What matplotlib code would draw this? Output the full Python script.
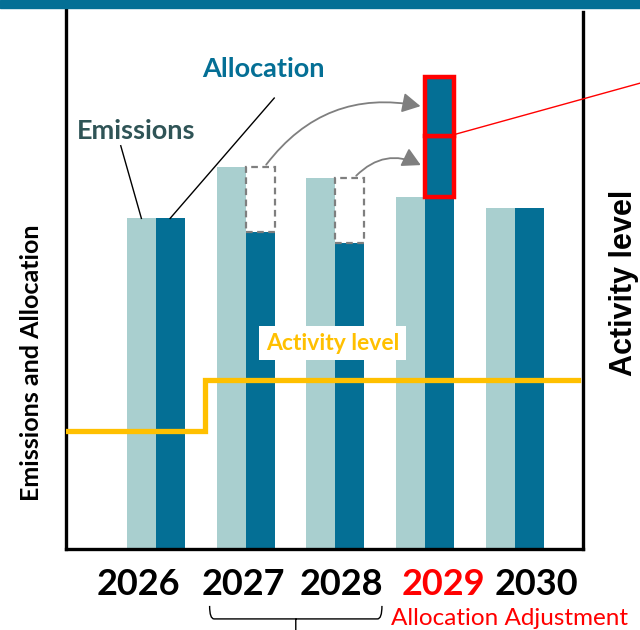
import numpy as np
import matplotlib.pyplot as plt
from matplotlib.patches import FancyArrowPatch, Rectangle
from matplotlib.path import Path
from matplotlib.patches import PathPatch

# values (arbitrary units, axis runs 0-100)
years = ['2026', '2027', '2028', '2029', '2030']
emissions = [61.0, 70.5, 68.5, 65.0, 63.0]
allocation = [61.0, 58.5, 56.5, 65.0, 63.0]
# allocation carried into 2029 from 2027 (lower) and 2028 (upper)
adjustment = [11.2, 10.8]
# activity level before / after the step
activity = [21.8, 31.2]

teal = '#046F95'
light = '#A9CFCF'
yellow = '#FFC000'
grey = '#7F7F7F'
red = '#FF0000'

bw = 0.323
x = np.arange(len(years))

fig = plt.figure(figsize=(6.4, 6.3), dpi=100)
fig.patches.append(Rectangle((0, 1 - 8 / 630), 1, 8 / 630, transform=fig.transFigure,
                             color=teal, zorder=0))
ax = fig.add_axes([66 / 640, 1 - 549 / 630, 517 / 640, 542 / 630])
ax.set_xlim(-1.0, 4.76)
ax.set_ylim(0, 100)

ax.bar(x - bw / 2, emissions, bw, color=light, zorder=2)
ax.bar(x + bw / 2, allocation, bw, color=teal, zorder=2)

# shortfall boxes for 2027 and 2028
for i in (1, 2):
    ax.add_patch(Rectangle((x[i], allocation[i]), bw, emissions[i] - allocation[i],
                           fill=False, ec=grey, lw=1.6, ls=(0, (3, 2)), zorder=3))

# adjustment stacked on 2029 allocation
base = allocation[3]
for a in adjustment:
    ax.bar(x[3] + bw / 2, a, bw, bottom=base, color=teal, ec=red, lw=3.2, zorder=4)
    base += a

# arrows from the shortfalls to the 2029 adjustment
seg_mid = [allocation[3] + adjustment[0] / 2, allocation[3] + adjustment[0] + adjustment[1] / 2]
for i, ytgt, rad in ((1, seg_mid[1], -0.32), (2, seg_mid[0], -0.38)):
    arr = FancyArrowPatch((x[i] + bw / 2 + 0.05, emissions[i]), (x[3] - 0.02, ytgt),
                          connectionstyle=f'arc3,rad={rad}',
                          arrowstyle='-|>,head_length=11,head_width=6',
                          color=grey, lw=1.3, zorder=5)
    ax.add_patch(arr)

# red pointer line out to the right
ax.plot([x[3] + bw + 0.01, 5.45], [allocation[3] + adjustment[0] + 0.3, 86.2],
        color=red, lw=1.0, clip_on=False, zorder=5)

# activity level step line
xs = [-1.0, 0.55, 0.55, 4.70]
ax.plot(xs, [activity[0], activity[0], activity[1], activity[1]], color=yellow, lw=3.8,
        solid_joinstyle='miter', zorder=6)
ax.text(1.97, 38.0, 'Activity level', color=yellow, fontsize=16.5, fontweight='bold',
        family='Lato', ha='center', va='center', zorder=7,
        bbox=dict(boxstyle='square,pad=0.3', fc='white', ec='none'))

# series labels with leader lines
ax.text(-0.22, 77.2, 'Emissions', color='#2F5456', fontsize=19.5, fontweight='bold',
        family='Lato', ha='center', va='center')
ax.plot([-0.39, -0.16], [74.4, emissions[0]], color='black', lw=1.0, zorder=3)
ax.text(1.20, 88.6, 'Allocation', color=teal, fontsize=19.5, fontweight='bold',
        family='Lato', ha='center', va='center')
ax.plot([1.32, 0.16], [83.2, allocation[0]], color='black', lw=1.0, zorder=3)

# axes frame
for s in ('left', 'bottom', 'right'):
    ax.spines[s].set_linewidth(2.4)
    ax.spines[s].set_color('black')
ax.spines['top'].set_visible(False)
ax.spines['right'].set_bounds(0, 99.1)
ax.set_yticks([])

label_pos = [-0.19, 0.98, 2.07, 3.21, 4.24]
ax.set_xticks(label_pos)
ax.set_xticklabels(years, fontsize=26, fontweight='bold', family='Lato')
ax.tick_params(axis='x', length=0, pad=14)
ax.get_xticklabels()[3].set_color(red)

fig.text(32 / 640, 1 - 363 / 630, 'Emissions and Allocation', rotation=90, fontsize=18,
         fontweight='bold', family='Lato', ha='center', va='center')
fig.text(624 / 640, 1 - 283 / 630, 'Activity level', rotation=90, fontsize=22,
         fontweight='bold', family='Liberation Sans', ha='center', va='center')

# bracket under 2027-2028
bx0, bx1, bxm = 0.60, 2.52, 1.56
yt, yh, yb = -10.5, -12.9, -15.1
verts = [(bx0, yt), (bx0, yh), (bx0 + 0.05, yh), (bxm - 0.05, yh), (bxm, yh), (bxm, yb),
         (bxm, yh), (bxm + 0.05, yh), (bx1 - 0.05, yh), (bx1, yh), (bx1, yt)]
codes = [Path.MOVETO, Path.CURVE3, Path.CURVE3, Path.LINETO, Path.LINETO, Path.LINETO,
         Path.MOVETO, Path.LINETO, Path.LINETO, Path.CURVE3, Path.CURVE3]
ax.add_patch(PathPatch(Path(verts, codes), fill=False, lw=1.0, ec='black', clip_on=False))
ax.text(3.94, -12.9, 'Allocation Adjustment', color=red, fontsize=17.5, family='Lato',
        ha='center', va='center', clip_on=False)

fig.savefig('out.png', dpi=100)
